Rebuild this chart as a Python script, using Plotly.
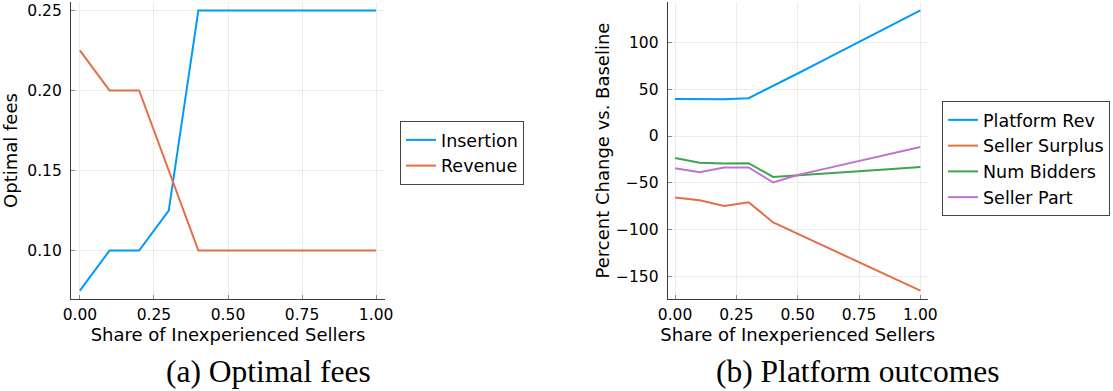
import plotly.graph_objects as go

# Share of inexperienced sellers (x-axis for both panels)
share = [0.0, 0.1, 0.2, 0.3, 0.4, 0.5, 0.6, 0.7, 0.8, 0.9, 1.0]

# Panel (a): optimal fees
insertion_fee = [0.075, 0.10, 0.10, 0.125, 0.25, 0.25, 0.25, 0.25, 0.25, 0.25, 0.25]
revenue_fee = [0.225, 0.20, 0.20, 0.15, 0.10, 0.10, 0.10, 0.10, 0.10, 0.10, 0.10]

# Panel (b): percent change vs. baseline
platform_rev = [39.6, 39.0, 39.2, 40.4, 53.2, 66.7, 80.2, 93.7, 107.1, 120.6, 134.0]
seller_surplus = [-65.5, -68.6, -74.6, -70.7, -92.2, -104.3, -116.4, -128.6, -140.7, -152.8, -164.9]
num_bidders = [-23.4, -28.6, -29.3, -29.0, -43.6, -42.0, -40.2, -38.4, -36.6, -34.8, -33.0]
seller_part = [-34.4, -38.6, -33.7, -33.6, -49.6, -41.6, -35.6, -29.6, -23.6, -17.6, -11.7]

x_ticks = [0.0, 0.25, 0.5, 0.75, 1.0]
x_ticklabels = ["0.00", "0.25", "0.50", "0.75", "1.00"]
fee_ticks = [0.10, 0.15, 0.20, 0.25]
fee_ticklabels = ["0.10", "0.15", "0.20", "0.25"]
pct_ticks = [-150, -100, -50, 0, 50, 100]

BLUE, ORANGE, GREEN, PURPLE = "#009AFA", "#E36F47", "#3EA44E", "#C271D2"
W, H = 1113, 391
SANS = "DejaVu Sans"
SERIF = "Liberation Serif"

fig = go.Figure()

def line(x, y, name, color, xa, ya, legend):
    fig.add_trace(go.Scatter(
        x=x, y=y, name=name, mode="lines",
        line=dict(color=color, width=2),
        xaxis=xa, yaxis=ya, legend=legend,
    ))

line(share, insertion_fee, "Insertion", BLUE, "x", "y", "legend")
line(share, revenue_fee, "Revenue", ORANGE, "x", "y", "legend")
line(share, platform_rev, "Platform Rev", BLUE, "x2", "y2", "legend2")
line(share, seller_surplus, "Seller Surplus", ORANGE, "x2", "y2", "legend2")
line(share, num_bidders, "Num Bidders", GREEN, "x2", "y2", "legend2")
line(share, seller_part, "Seller Part", PURPLE, "x2", "y2", "legend2")

def pad(vals, frac=0.03):
    lo, hi = min(vals), max(vals)
    d = (hi - lo) * frac
    return [lo - d, hi + d]

y_dom = [(H - 299) / H, (H - 2) / H]

axis_common = dict(
    showline=True, linecolor="#3a3a3a", linewidth=1.2,
    showgrid=True, gridcolor="#ececec", gridwidth=1,
    ticks="inside", ticklen=4, tickcolor="#8a8a8a",
    zeroline=False, mirror=False, automargin=False,
    tickfont=dict(family=SANS, size=15.5, color="#000"),
    title_font=dict(family=SANS, size=18, color="#000"),
)

xr = pad(share)
fig.update_layout(
    xaxis=dict(axis_common, domain=[71 / W, 385 / W], range=xr, anchor="y",
               tickvals=x_ticks, ticktext=x_ticklabels, ticklabelstandoff=1,
               title=dict(text="Share of Inexperienced Sellers", standoff=0)),
    yaxis=dict(axis_common, domain=y_dom, range=pad(insertion_fee + revenue_fee), anchor="x",
               tickvals=fee_ticks, ticktext=fee_ticklabels, ticklabelstandoff=5,
               title=dict(text="Optimal fees", standoff=6)),
    xaxis2=dict(axis_common, domain=[667.7 / W, 927.7 / W], range=xr, anchor="y2",
                tickvals=x_ticks, ticktext=x_ticklabels, ticklabelstandoff=1,
                title=dict(text="Share of Inexperienced Sellers", standoff=0)),
    yaxis2=dict(axis_common, domain=y_dom,
                range=pad(platform_rev + seller_surplus + num_bidders + seller_part), anchor="x2",
                tickvals=pct_ticks, ticklabelstandoff=5,
                title=dict(text="Percent Change vs. Baseline", standoff=1)),
    legend=dict(x=400 / W, y=1 - 121 / H, xanchor="left", yanchor="top",
                bgcolor="white", bordercolor="#444", borderwidth=1,
                font=dict(family=SANS, size=17.5, color="#000"),
                tracegroupgap=0, itemwidth=30),
    legend2=dict(x=942 / W, y=1 - 101 / H, xanchor="left", yanchor="top",
                 bgcolor="white", bordercolor="#444", borderwidth=1,
                 font=dict(family=SANS, size=17.5, color="#000"),
                 tracegroupgap=0, itemwidth=30),
    width=W, height=H,
    margin=dict(l=0, r=0, t=0, b=0),
    paper_bgcolor="white", plot_bgcolor="white",
    showlegend=True,
    annotations=[
        dict(text="(a) Optimal fees", x=268 / W, y=1 - 371 / H, xref="paper", yref="paper",
             xanchor="center", yanchor="middle", showarrow=False,
             font=dict(family=SERIF, size=31.5, color="#000")),
        dict(text="(b) Platform outcomes", x=857 / W, y=1 - 371 / H, xref="paper", yref="paper",
             xanchor="center", yanchor="middle", showarrow=False,
             font=dict(family=SERIF, size=31.5, color="#000")),
    ],
)

fig.write_html("out.html")
